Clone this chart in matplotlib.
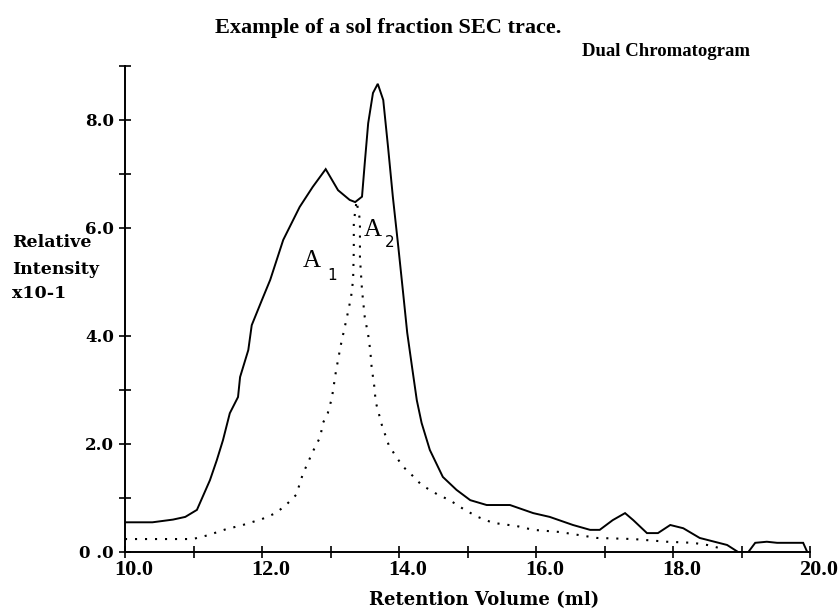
import matplotlib

matplotlib.use("Agg")
import matplotlib.pyplot as plt
import matplotlib.transforms as mtransforms

# solid trace (total chromatogram)
total_x = [10.0, 10.4, 10.7, 10.88, 11.05, 11.24, 11.34, 11.43, 11.53, 11.65,
           11.68, 11.8, 11.85, 12.0, 12.12, 12.31, 12.55, 12.74, 12.93, 13.11,
           13.28, 13.36, 13.46, 13.5, 13.55, 13.62, 13.69, 13.77, 13.84, 13.91,
           13.99, 14.06, 14.12, 14.19, 14.26, 14.33, 14.45, 14.64, 14.84, 15.04,
           15.28, 15.62, 15.96, 16.2, 16.54, 16.79, 16.93, 17.12, 17.3, 17.42,
           17.62, 17.78, 17.96, 18.15, 18.39, 18.79, 18.95, 19.1, 19.2, 19.37,
           19.52, 19.9, 19.96]
total_y = [0.55, 0.55, 0.6, 0.65, 0.78, 1.33, 1.70, 2.07, 2.57, 2.87,
           3.24, 3.74, 4.2, 4.67, 5.04, 5.78, 6.39, 6.76, 7.09, 6.70,
           6.52, 6.48, 6.58, 7.2, 7.94, 8.5, 8.67, 8.37, 7.5, 6.58,
           5.65, 4.8, 4.06, 3.43, 2.81, 2.39, 1.89, 1.39, 1.15, 0.96,
           0.87, 0.87, 0.72, 0.65, 0.5, 0.41, 0.41, 0.59, 0.72, 0.59,
           0.35, 0.35, 0.5, 0.44, 0.26, 0.13, 0.0, 0.0, 0.17, 0.19,
           0.17, 0.17, 0.0]

# dotted trace (second detector)
second_x = [10.0, 10.99, 11.21, 11.47, 11.72, 12.0, 12.2, 12.35, 12.5, 12.55,
            12.6, 12.67, 12.73, 12.79, 12.85, 12.89, 12.96, 13.02, 13.08, 13.15,
            13.24, 13.30, 13.33, 13.34, 13.34, 13.38, 13.43, 13.43, 13.46, 13.5,
            13.55, 13.58, 13.6, 13.64, 13.66, 13.75, 13.85, 13.96, 14.06, 14.2,
            14.33, 14.57, 14.74, 14.96, 15.15, 15.37, 15.72, 15.96, 16.35, 16.89,
            17.42, 17.91, 18.29, 18.5, 18.69]
second_y = [0.24, 0.24, 0.31, 0.42, 0.5, 0.61, 0.72, 0.87, 1.06, 1.26,
            1.46, 1.65, 1.83, 1.98, 2.13, 2.39, 2.57, 2.85, 3.35, 3.83,
            4.35, 4.72, 5.04, 5.59, 6.1, 6.5, 6.15, 5.45, 4.85, 4.35,
            4.02, 3.74, 3.43, 3.06, 2.78, 2.35, 1.98, 1.76, 1.58, 1.41,
            1.24, 1.06, 0.96, 0.78, 0.65, 0.54, 0.48, 0.41, 0.37, 0.26,
            0.24, 0.19, 0.17, 0.13, 0.07]

x_major = [10, 12, 14, 16, 18, 20]
x_minor = [11, 13, 15, 17, 19]
x_labels = ["10.0", "12.0", "14.0", "16.0", "18.0", "20.0"]
y_major = [0, 2, 4, 6, 8]
y_minor = [1, 3, 7, 9]
y_labels = ["0 .0", "2.0", "4.0", "6.0", "8.0"]

W, H = 839, 610
fig = plt.figure(figsize=(W / 100, H / 100), dpi=100)
ax = fig.add_axes([125 / W, 1 - 552 / H, (810 - 125) / W, (552 - 66) / H])

ax.plot(total_x, total_y, color="black", linewidth=1.4, solid_joinstyle="miter")
ax.plot(second_x, second_y, color="black", linewidth=1.5,
        linestyle=(0, (1, 3.8)), dash_capstyle="butt")

ax.set_xlim(10, 20)
ax.set_ylim(0, 9)
for side in ("top", "right"):
    ax.spines[side].set_visible(False)
for side in ("left", "bottom"):
    ax.spines[side].set_linewidth(1.4)
    ax.spines[side].set_zorder(1)

ax.set_xticks(x_major)
ax.set_xticks(x_minor, minor=True)
ax.set_xticklabels(x_labels, fontfamily="Liberation Serif", fontweight="bold",
                   fontsize=16)
ax.set_yticks(y_major)
ax.set_yticks(y_minor, minor=True)
ax.set_yticklabels(y_labels, fontfamily="DejaVu Serif", fontweight="bold",
                   fontsize=12)
ax.tick_params(which="both", direction="inout", length=8, width=1.2,
               color="black")
ax.tick_params(axis="x", pad=2)
ax.tick_params(axis="y", pad=4)

shift = mtransforms.ScaledTranslation(9 / 100, 0, fig.dpi_scale_trans)
for lbl in ax.get_xticklabels():
    lbl.set_transform(lbl.get_transform() + shift)

fig.text(388 / W, 1 - 28 / H, "Example of a sol fraction SEC trace.",
         ha="center", va="center", fontfamily="Liberation Serif",
         fontweight="bold", fontsize=16)
fig.text(582 / W, 1 - 52 / H, "Dual Chromatogram", ha="left", va="center",
         fontfamily="Liberation Serif", fontweight="bold", fontsize=13.5)
fig.text(484 / W, 5 / H, "Retention Volume (ml)", ha="center", va="baseline",
         fontfamily="DejaVu Serif", fontweight="bold", fontsize=13)

for text, ypix in (("Relative", 243), ("Intensity", 269), ("x10-1", 293)):
    fig.text(12 / W, 1 - ypix / H, text, ha="left", va="center",
             fontfamily="DejaVu Serif", fontweight="bold", fontsize=12.5)

# peak area labels A1 and A2
ax.text(12.72, 5.39, "A", ha="center", va="center",
        fontfamily="Liberation Serif", fontsize=18)
ax.text(13.03, 5.12, "1", ha="center", va="center",
        fontfamily="DejaVu Sans", fontsize=11)
ax.text(13.62, 5.96, "A", ha="center", va="center",
        fontfamily="Liberation Serif", fontsize=18)
ax.text(13.87, 5.74, "2", ha="center", va="center",
        fontfamily="DejaVu Sans", fontsize=11)

fig.savefig("out.png", dpi=100)
